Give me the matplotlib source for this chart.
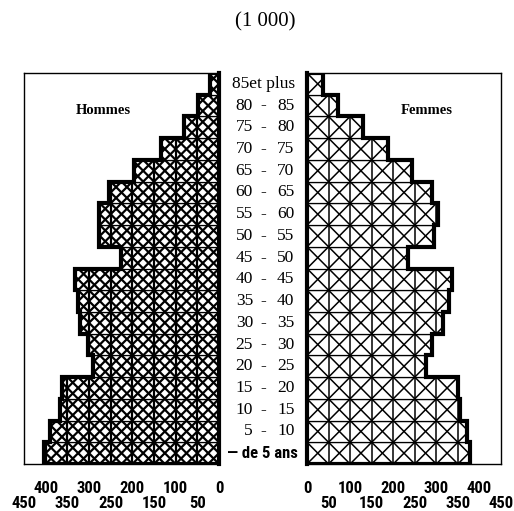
# -*- coding: utf-8 -*-
"""
Pyramide des ages (1 000) - hommes / femmes, redrawn with matplotlib.
"""

#%% --- Import required packages ---

import numpy as np
import matplotlib
matplotlib.use("Agg")
import matplotlib.pyplot as plt
from matplotlib import font_manager
from matplotlib.collections import LineCollection
from matplotlib.path import Path
from matplotlib.transforms import blended_transform_factory

#%% --- Data (youngest group first) ---

age_labels = ["— de 5 ans", "5 - 10", "10 - 15", "15 - 20", "20 - 25",
              "25 - 30", "30 - 35", "35 - 40", "40 - 45", "45 - 50",
              "50 - 55", "55 - 60", "60 - 65", "65 - 70", "70 - 75",
              "75 - 80", "80 - 85", "85et plus"]

hommes = [403, 391, 367, 362, 290, 303, 320, 326, 333, 227,
          278, 276, 255, 197, 135, 80, 48, 21]

femmes = [379, 371, 354, 350, 276, 290, 315, 329, 336, 234,
          294, 303, 290, 243, 188, 130, 73, 38]

major_ticks = [0, 100, 200, 300, 400]
minor_ticks = [50, 150, 250, 350, 450]

#%% --- Fonts ---

serif = ["Liberation Serif", "DejaVu Serif"]

# look for a narrow bold sans for the axis numbers
installed = font_manager.fontManager.ttflist
names = {f.name for f in installed}
narrow = dict(family="DejaVu Sans", fontsize=9)
if "Liberation Sans Narrow" in names:
    narrow = dict(family="Liberation Sans Narrow", fontsize=12)
elif "Roboto Condensed" in names:
    narrow = dict(family="Roboto Condensed", fontsize=12)
elif any(f.name == "DejaVu Sans" and "condensed" in str(f.stretch)
         for f in installed):
    narrow = dict(family="DejaVu Sans", fontstretch="condensed",
                  fontsize=11)
elif "Open Sans" in names and any(f.name == "Open Sans" and
                                  "condensed" in str(f.stretch)
                                  for f in installed):
    narrow = dict(family="Open Sans", fontstretch="condensed", fontsize=11)

#%% --- Helpers ---


def draw_side(ax, values, step, hatch_lw):
    """Bars with grid cells, diagonal hatching and a thick outline."""
    n = len(values)
    y = np.arange(n)
    ax.barh(y, values, height=1.0, left=0, color="white",
            edgecolor="black", linewidth=0.9, zorder=1)

    # clip region = union of the bars
    rects = [Path([(0, i - 0.5), (v, i - 0.5), (v, i + 0.5), (0, i + 0.5),
                   (0, i - 0.5)], closed=True)
             for i, v in zip(y, values)]
    clip = Path.make_compound_path(*rects)

    # vertical grid lines every 50 units
    segs = [[(x, -0.5), (x, n - 0.5)] for x in np.arange(50, 451, 50)]
    # diagonals through the 50 x 1 cells
    for k in np.arange(-n, 12, step):
        segs.append([(50 * k, -0.5), (50 * (k + n), n - 0.5)])
        segs.append([(50 * k, n - 0.5), (50 * (k + n), -0.5)])
    lc = LineCollection(segs, colors="black", linewidths=hatch_lw, zorder=2)
    ax.add_collection(lc)
    lc.set_clip_path(clip, ax.transData)

    # thick outer profile
    ax.stairs(values, np.arange(n + 1) - 0.5, orientation="horizontal",
              baseline=0, color="black", linewidth=3, zorder=3)

    ax.set_ylim(-0.5, n - 0.5)
    ax.set_yticks([])
    ax.set_xticks(major_ticks)
    ax.set_xticks(minor_ticks, minor=True)
    ax.set_xticklabels([str(t) for t in major_ticks])
    ax.set_xticklabels([str(t) for t in minor_ticks], minor=True)
    ax.tick_params(axis="x", which="major", length=0, pad=12)
    ax.tick_params(axis="x", which="minor", length=0, pad=23)
    for lab in ax.get_xticklabels(which="both"):
        lab.set_fontweight("bold")
        lab.set(**narrow)
    for sp in ax.spines.values():
        sp.set_linewidth(1.0)


#%% --- Plot data ---

fig = plt.figure(figsize=(5.14, 5.11), dpi=100)

ax_h = fig.add_axes([24 / 514, 47 / 511, 195 / 514, 391 / 511])
ax_f = fig.add_axes([307 / 514, 47 / 511, 194 / 514, 391 / 511])

draw_side(ax_h, hommes, 0.5, 1.6)
ax_h.set_xlim(450, 0)
ax_h.spines["right"].set_linewidth(3)

draw_side(ax_f, femmes, 1.0, 1.1)
ax_f.set_xlim(0, 450)
ax_f.spines["left"].set_linewidth(3)

# --- Text and annotation ---
fig.text(265 / 514, 1 - 22 / 511, "(1 000)", ha="center", va="center",
         family=serif, fontsize=15)

ax_h.text(103 / 514, 1 - 110 / 511, "Hommes", transform=fig.transFigure,
          ha="center", va="center", family=serif, fontweight="bold",
          fontsize=10.5)
ax_f.text(427 / 514, 1 - 110 / 511, "Femmes", transform=fig.transFigure,
          ha="center", va="center", family=serif, fontweight="bold",
          fontsize=10.5)

tr = blended_transform_factory(fig.transFigure, ax_h.transData)
for i, lab in enumerate(age_labels):
    if " - " in lab:
        lo, hi = lab.split(" - ")
        ax_h.text(253 / 514, i, lo, transform=tr, ha="right", va="center",
                  family=serif, fontsize=12.5, clip_on=False)
        ax_h.text(263.5 / 514, i, "-", transform=tr, ha="center",
                  va="center", family=serif, fontsize=12.5, clip_on=False)
        ax_h.text(277 / 514, i, hi, transform=tr, ha="left", va="center",
                  family=serif, fontsize=12.5, clip_on=False)
    elif lab.startswith("—"):
        ax_h.text(262.5 / 514, i, lab, transform=tr, ha="center",
                  va="center", fontweight="bold", clip_on=False,
                  **narrow)
    else:
        ax_h.text(263.5 / 514, i, lab, transform=tr, ha="center",
                  va="center", family=serif, fontsize=12.5, clip_on=False)

#%% --- Export data ---

fig.savefig("out.png", dpi=100)
